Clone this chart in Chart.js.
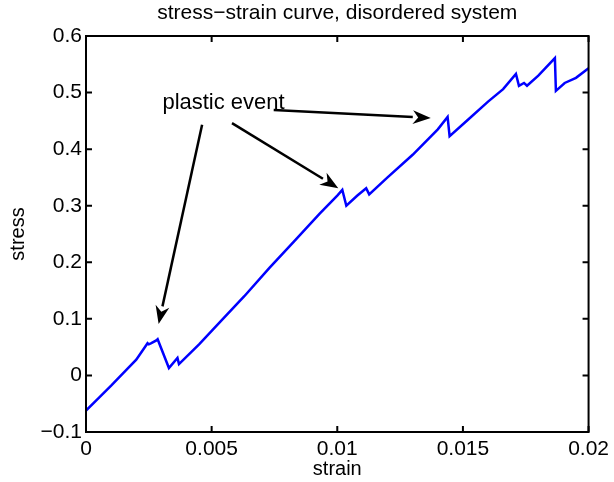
<!DOCTYPE html>
<html>
<head>
<meta charset="utf-8">
<script src="https://cdn.jsdelivr.net/npm/chart.js@4.4.1/dist/chart.umd.min.js"></script>
<style>
  html, body { margin: 0; padding: 0; background: #fff; }
  #wrap { width: 614px; height: 482px; }
</style>
</head>
<body>
<div id="wrap"><canvas id="chart" width="614" height="482"></canvas></div>
<script>
// strain / stress samples
const strain = [0, 0.0005, 0.0010, 0.0015, 0.0020, 0.00245, 0.0025, 0.0026, 0.0028, 0.00285,
  0.0033, 0.00364, 0.0037, 0.0045, 0.0053, 0.0063, 0.0073, 0.0083, 0.0093, 0.0100, 0.0102,
  0.01036, 0.0108, 0.01115, 0.01127, 0.0120, 0.0130, 0.0140, 0.01439, 0.01447,
  0.0152, 0.0160, 0.0166, 0.01711, 0.01723, 0.01743, 0.01755, 0.0180, 0.01866, 0.0187,
  0.01905, 0.0195, 0.0200];
const stress = [-0.062, -0.040, -0.018, 0.005, 0.028, 0.057, 0.055, 0.057, 0.062, 0.064,
  0.013, 0.031, 0.020, 0.055, 0.093, 0.140, 0.190, 0.238, 0.286, 0.318, 0.328,
  0.300, 0.318, 0.331, 0.320, 0.350, 0.390, 0.435, 0.457, 0.423,
  0.452, 0.484, 0.506, 0.533, 0.512, 0.517, 0.512, 0.530, 0.561, 0.503,
  0.517, 0.526, 0.543];

const xTicks = [0, 0.005, 0.01, 0.015, 0.02];
const xTickLabels = ['0', '0.005', '0.01', '0.015', '0.02'];
const yTicks = [-0.1, 0, 0.1, 0.2, 0.3, 0.4, 0.5, 0.6];
const yTickLabels = ['\u22120.1', '0', '0.1', '0.2', '0.3', '0.4', '0.5', '0.6'];

const titleText = 'stress\u2212strain curve, disordered system';

// annotation: label + arrows (tail -> head) in data units
const noteText = 'plastic event';
const notePos = [0.00304, 0.482];
const arrowTails = [[0.00462, 0.443], [0.00581, 0.446], [0.00747, 0.469]];
const arrowHeads = [[0.00289, 0.091], [0.01004, 0.331], [0.01372, 0.455]];

const FONT = 'Liberation Sans, Arial, sans-serif';
const FS = 21;

const framePlugin = {
  id: 'frame',
  afterDraw(chart) {
    const { ctx, chartArea: a, scales: { x, y } } = chart;
    ctx.save();
    ctx.strokeStyle = '#000';
    ctx.lineWidth = 2;
    ctx.strokeRect(a.left, a.top, a.right - a.left, a.bottom - a.top);
    ctx.beginPath();
    xTicks.forEach(v => {
      const px = x.getPixelForValue(v);
      ctx.moveTo(px, a.bottom); ctx.lineTo(px, a.bottom - 6);
      ctx.moveTo(px, a.top); ctx.lineTo(px, a.top + 6);
    });
    yTicks.forEach(v => {
      const py = y.getPixelForValue(v);
      ctx.moveTo(a.left, py); ctx.lineTo(a.left + 6, py);
      ctx.moveTo(a.right, py); ctx.lineTo(a.right - 6, py);
    });
    ctx.stroke();

    // title, centred over the plot area
    ctx.fillStyle = '#000';
    ctx.font = FS + 'px ' + FONT;
    ctx.textAlign = 'center';
    ctx.textBaseline = 'middle';
    ctx.fillText(titleText, (a.left + a.right) / 2, 13);

    // annotation
    ctx.font = (FS + 1) + 'px ' + FONT;
    ctx.textAlign = 'left';
    ctx.fillText(noteText, x.getPixelForValue(notePos[0]), y.getPixelForValue(notePos[1]));
    ctx.lineWidth = 2.5;
    arrowTails.forEach((t, i) => {
      const x0 = x.getPixelForValue(t[0]), y0 = y.getPixelForValue(t[1]);
      const x1 = x.getPixelForValue(arrowHeads[i][0]), y1 = y.getPixelForValue(arrowHeads[i][1]);
      const ang = Math.atan2(y1 - y0, x1 - x0);
      const hl = 18, hw = 7;
      const bx = x1 - hl * Math.cos(ang), by = y1 - hl * Math.sin(ang);
      ctx.beginPath();
      ctx.moveTo(x0, y0); ctx.lineTo(bx, by);
      ctx.stroke();
      ctx.beginPath();
      ctx.moveTo(x1, y1);
      ctx.lineTo(bx + hw * Math.sin(ang), by - hw * Math.cos(ang));
      ctx.lineTo(bx + 0.3 * hl * Math.cos(ang), by + 0.3 * hl * Math.sin(ang));
      ctx.lineTo(bx - hw * Math.sin(ang), by + hw * Math.cos(ang));
      ctx.closePath();
      ctx.fill();
    });
    ctx.restore();
  }
};

new Chart(document.getElementById('chart'), {
  type: 'scatter',
  data: {
    datasets: [{
      data: strain.map((s, i) => ({ x: s, y: stress[i] })),
      showLine: true,
      borderColor: '#0000ff',
      borderWidth: 2.5,
      pointRadius: 0,
      tension: 0
    }]
  },
  options: {
    responsive: false,
    animation: false,
    layout: { padding: { top: 36, right: 22, left: 0, bottom: 0 } },
    plugins: {
      legend: { display: false },
      tooltip: { enabled: false },
      title: { display: false }
    },
    scales: {
      x: {
        type: 'linear',
        min: 0, max: 0.02,
        afterBuildTicks: s => { s.ticks = xTicks.map(v => ({ value: v })); },
        afterFit: s => { s.height = 50; },
        grid: { display: false, drawTicks: false },
        border: { display: false },
        ticks: {
          color: '#000',
          font: { family: FONT, size: FS },
          padding: 5,
          maxRotation: 0,
          callback: (v, i) => xTickLabels[i]
        },
        title: {
          display: true, text: 'strain', color: '#000',
          font: { family: FONT, size: FS - 1 }, padding: { top: 0, bottom: 1 }
        }
      },
      y: {
        type: 'linear',
        min: -0.1, max: 0.6,
        afterBuildTicks: s => { s.ticks = yTicks.map(v => ({ value: v })); },
        afterFit: s => { s.width = 86; },
        grid: { display: false, drawTicks: false },
        border: { display: false },
        ticks: {
          color: '#000',
          font: { family: FONT, size: FS },
          padding: 4,
          callback: (v, i) => yTickLabels[i]
        },
        title: {
          display: true, text: 'stress', color: '#000',
          font: { family: FONT, size: FS - 1 }, padding: { top: 6, bottom: 0 }
        }
      }
    }
  },
  plugins: [framePlugin]
});
</script>
</body>
</html>
